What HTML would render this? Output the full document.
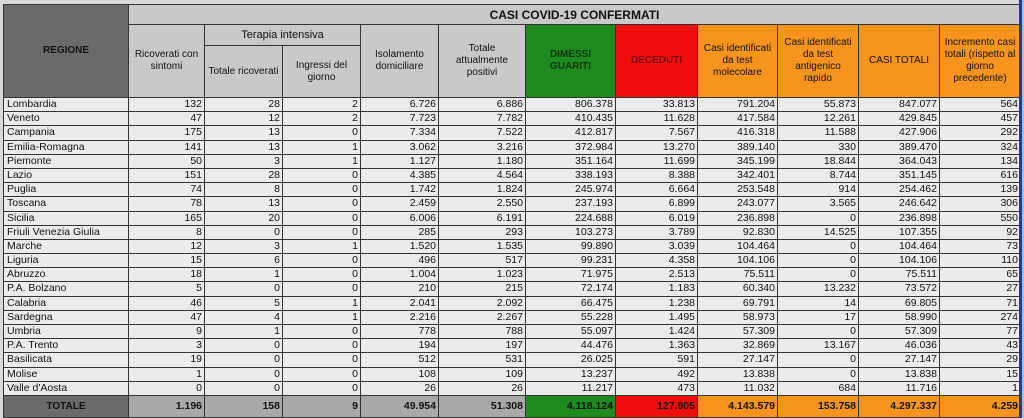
<!DOCTYPE html>
<html><head><meta charset="utf-8">
<style>
html,body{margin:0;padding:0;}
body{width:1024px;height:418px;background:#d9d9d9;position:relative;overflow:hidden;font-family:"Liberation Sans",sans-serif;}
.c{position:absolute;box-sizing:border-box;border:1px solid #333;font-size:10.5px;color:#111;overflow:hidden;white-space:nowrap;}
.h{display:flex;align-items:center;justify-content:center;text-align:center;white-space:nowrap;line-height:12px;font-size:10px;color:#111;}
.n{text-align:right;padding-right:2px;line-height:13px;}
.l{text-align:left;padding-left:3px;line-height:13px;}
</style></head>
<body>
<div id="t"></div>
<div style="position:absolute;left:1019px;top:0;width:3px;height:418px;background:#1c3f8c"></div>
<div style="position:absolute;left:1022px;top:0;width:2px;height:418px;background:#9ec3e6"></div>
<script>
const regions=["Lombardia","Veneto","Campania","Emilia-Romagna","Piemonte","Lazio","Puglia","Toscana","Sicilia","Friuli Venezia Giulia","Marche","Liguria","Abruzzo","P.A. Bolzano","Calabria","Sardegna","Umbria","P.A. Trento","Basilicata","Molise","Valle d'Aosta"];
const ricoverati=["132","47","175","141","50","151","74","78","165","8","12","15","18","5","46","47","9","3","19","1","0"];
const terapia=["28","12","13","13","3","28","8","13","20","0","3","6","1","0","5","4","1","0","0","0","0"];
const ingressi=["2","2","0","1","1","0","0","0","0","0","1","0","0","0","1","1","0","0","0","0","0"];
const isolamento=["6.726","7.723","7.334","3.062","1.127","4.385","1.742","2.459","6.006","285","1.520","496","1.004","210","2.041","2.216","778","194","512","108","26"];
const positivi=["6.886","7.782","7.522","3.216","1.180","4.564","1.824","2.550","6.191","293","1.535","517","1.023","215","2.092","2.267","788","197","531","109","26"];
const guariti=["806.378","410.435","412.817","372.984","351.164","338.193","245.974","237.193","224.688","103.273","99.890","99.231","71.975","72.174","66.475","55.228","55.097","44.476","26.025","13.237","11.217"];
const deceduti=["33.813","11.628","7.567","13.270","11.699","8.388","6.664","6.899","6.019","3.789","3.039","4.358","2.513","1.183","1.238","1.495","1.424","1.363","591","492","473"];
const molecolare=["791.204","417.584","416.318","389.140","345.199","342.401","253.548","243.077","236.898","92.830","104.464","104.106","75.511","60.340","69.791","58.973","57.309","32.869","27.147","13.838","11.032"];
const antigenico=["55.873","12.261","11.588","330","18.844","8.744","914","3.565","0","14.525","0","0","0","13.232","14","17","0","13.167","0","0","684"];
const totali=["847.077","429.845","427.906","389.470","364.043","351.145","254.462","246.642","236.898","107.355","104.464","104.106","75.511","73.572","69.805","58.990","57.309","46.036","27.147","13.838","11.716"];
const incremento=["564","457","292","324","134","616","139","306","550","92","73","110","65","27","71","274","77","43","29","15","1"];
const totalsRow=["1.196","158","9","49.954","51.308","4.118.124","127.905","4.143.579","153.758","4.297.337","4.259"];
const headers=[["Ricoverati con","sintomi"],["Totale ricoverati"],["Ingressi del","giorno"],["Isolamento","domiciliare"],["Totale","attualmente","positivi"],["DIMESSI","GUARITI"],["DECEDUTI"],["Casi identificati","da test","molecolare"],["Casi identificati","da test","antigenico","rapido"],["CASI TOTALI"],["Incremento casi","totali (rispetto al","giorno","precedente)"]];
const cols=[[ricoverati,"ricoverati"],[terapia,"terapia"],[ingressi,"ingressi"],[isolamento,"isolamento"],[positivi,"positivi"],[guariti,"guariti"],[deceduti,"deceduti"],[molecolare,"molecolare"],[antigenico,"antigenico"],[totali,"totali"],[incremento,"incremento"]];
const X=[3,128,204,282,360,438,525,615,697,777,858,939,1020];
const top0=97,rh=14.19,totTop=395,totBot=417;
const hbg=["#c9c9c9","#c9c9c9","#c9c9c9","#c9c9c9","#c9c9c9","#1f8a1f","#f20d0d","#f7941d","#f7941d","#f7941d","#f7941d"];
const htx=["#111","#111","#111","#111","#111","#0a3a0a","#7a0000","#111","#111","#111","#111"];
const tbg=["#a9a9a9","#a9a9a9","#a9a9a9","#a9a9a9","#a9a9a9","#1f8a1f","#f20d0d","#f7941d","#f7941d","#f7941d","#f7941d"];
const T=document.getElementById('t');
function cell(x,y,w,h,cls,txt,bg){const d=document.createElement('div');d.className='c '+cls;d.style.left=x+'px';d.style.top=y+'px';d.style.width=(w+1)+'px';d.style.height=(h+1)+'px';if(bg)d.style.background=bg;d.textContent=txt;T.appendChild(d);return d;}
let d=cell(3,4,125,93,'h','REGIONE','#6b6b6b');d.style.fontWeight='bold';


d=cell(128,4,892,20,'h','CASI COVID-19 CONFERMATI','#c9c9c9');d.style.fontWeight='bold';d.style.fontSize='12px';


d=cell(204,24,156,21,'h','Terapia intensiva','#c9c9c9');d.style.fontSize='11px';


for(let i=0;i<11;i++){
 const y=(i==1||i==2)?45:24;
 d=cell(X[i+1],y,X[i+2]-X[i+1],97-y,'h','',hbg[i]);d.style.color=htx[i];
 const s=document.createElement('span');
 headers[i].forEach((ln,k)=>{if(k)s.appendChild(document.createElement('br'));s.appendChild(document.createTextNode(ln));});
 d.appendChild(s);
 if(i==5||i==6)d.style.fontWeight='bold';
 
 
}
for(let r=0;r<regions.length;r++){
 const y=Math.round(top0+r*rh),h=Math.round(top0+(r+1)*rh)-y;
 d=cell(3,y,125,h,'l',regions[r],'#ebebeb');
 
 
 for(let i=0;i<11;i++){
  d=cell(X[i+1],y,X[i+2]-X[i+1],h,'n',cols[i][0][r],'#ebebeb');
  
  
 }
}
d=cell(3,totTop,125,totBot-totTop,'h','TOTALE','#6b6b6b');d.style.fontWeight='bold';


for(let i=0;i<11;i++){
 d=cell(X[i+1],totTop,X[i+2]-X[i+1],totBot-totTop,'n',totalsRow[i],tbg[i]);d.style.fontWeight='bold';d.style.lineHeight='20px';
 
 
}
</script>
</body></html>
